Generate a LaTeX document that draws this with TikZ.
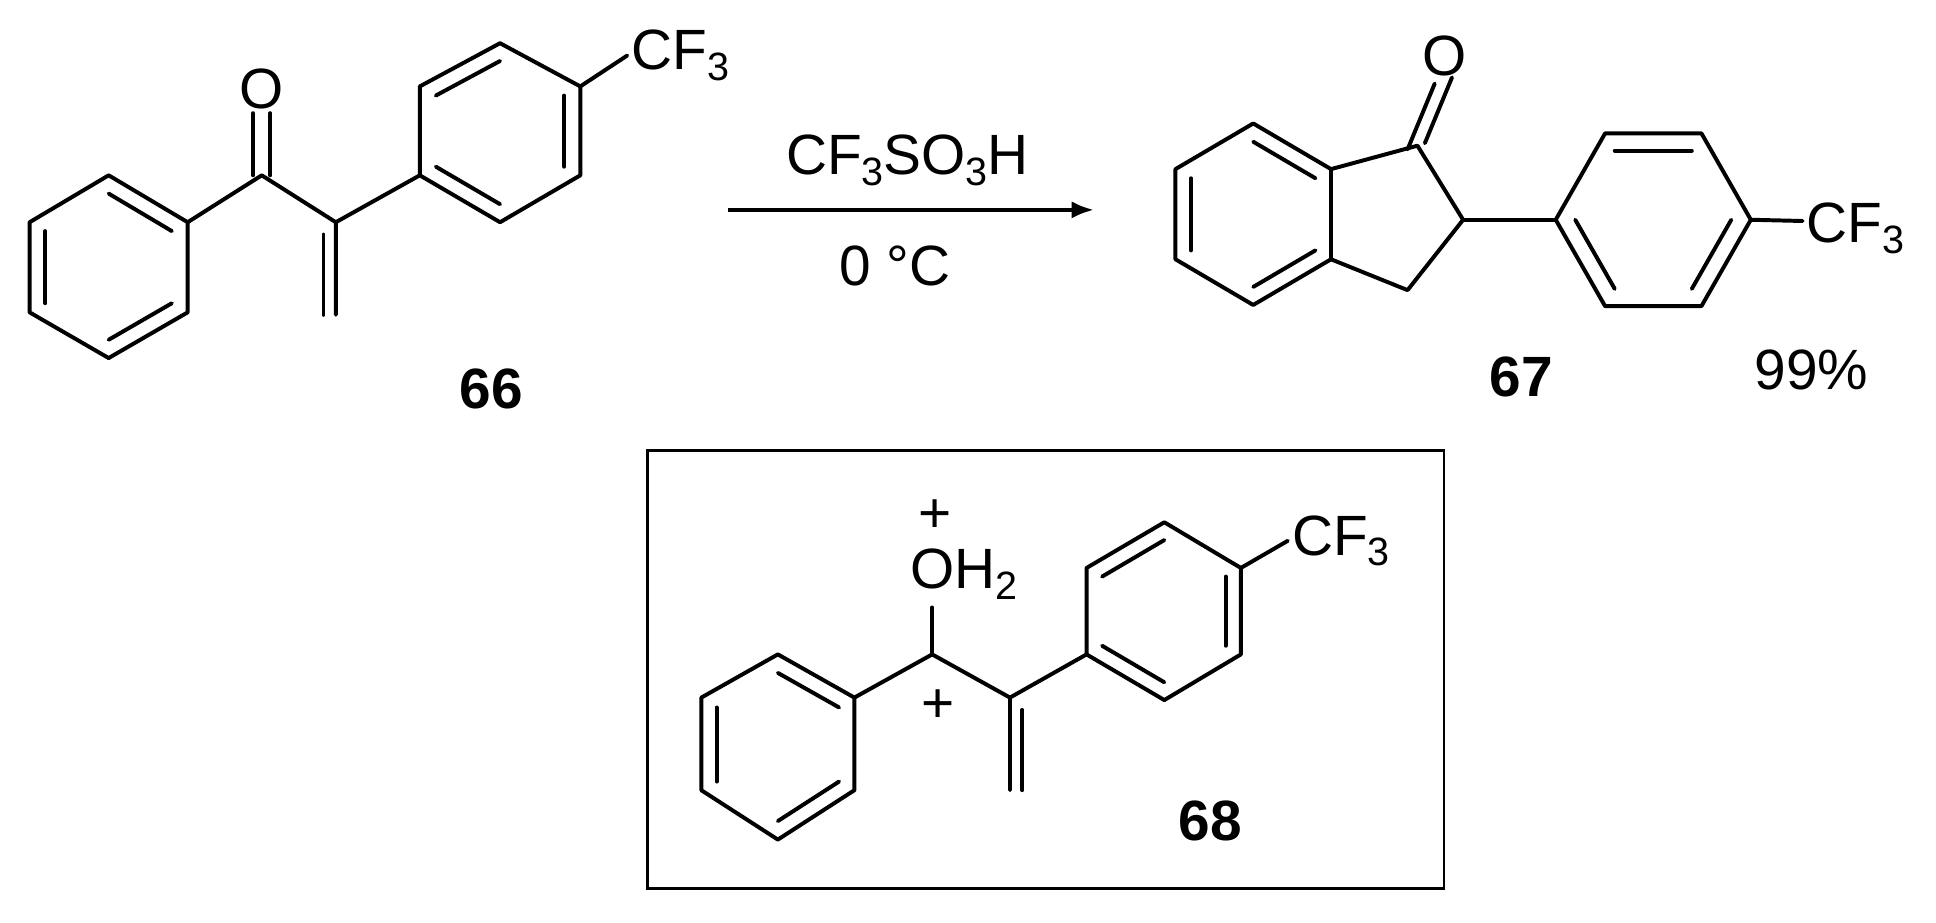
\documentclass[tikz,border=0pt]{standalone}
\usepackage{fontspec}
\setmainfont{Liberation Sans}
\usetikzlibrary{calc,arrows.meta}
\tikzset{
  bond/.style={line width=1.6pt,line cap=round,line join=round},
  atom/.style={inner sep=1.5pt,font=\fontsize{23}{27}\selectfont},
  lbl/.style={font=\fontsize{23}{27}\selectfont\bfseries},
  txt/.style={font=\fontsize{23}{27}\selectfont},
}
\newcommand{\inner}[3]{\draw[bond] ($(#1)!0.2!(#3)$) -- ($(#2)!0.2!(#3)$);}
\newcommand{\sbs}[1]{\raisebox{-0.35ex}{\fontsize{16}{18}\selectfont #1}}
\begin{document}
\begin{tikzpicture}[x=0.5pt,y=-0.5pt]
\useasboundingbox (0,0) rectangle (1568,747);
% ---------- 66 ----------
\coordinate (a1) at (88,142); \coordinate (a2) at (152,180); \coordinate (a3) at (152,253);
\coordinate (a4) at (88,290); \coordinate (a5) at (24,253); \coordinate (a6) at (24,180);
\coordinate (ac) at (88,216);
\draw[bond] (a1)--(a2)--(a3)--(a4)--(a5)--(a6)--cycle;
\inner{a1}{a2}{ac}\inner{a3}{a4}{ac}\inner{a5}{a6}{ac}
\coordinate (c1) at (212,142); \node[atom] (o1) at (212,72) {O};
\coordinate (c2) at (272,180); \coordinate (ch2) at (272,255);
\draw[bond] (a2)--(c1)--(c2)--(ch2);
\draw[bond] ([xshift=-3.5pt]c1) -- ([xshift=-3.5pt]o1.south);
\draw[bond] ([xshift=3.5pt]c1) -- ([xshift=3.5pt]o1.south);
\draw[bond] (262,190)--(262,255);
\coordinate (b1) at (340,142); \coordinate (b2) at (340,70); \coordinate (b3) at (405,35);
\coordinate (b4) at (470,70); \coordinate (b5) at (470,142); \coordinate (b6) at (405,180);
\coordinate (bc) at (405,107);
\draw[bond] (b1)--(b2)--(b3)--(b4)--(b5)--(b6)--cycle;
\inner{b2}{b3}{bc}\inner{b4}{b5}{bc}\inner{b6}{b1}{bc}
\draw[bond] (c2)--(b1);
\node[atom,anchor=west] (cf1) at (508,45) {CF\sbs{3}};
\draw[bond] (b4)--(cf1.west);
\node[lbl] (n66) at (398,315) {66};
% ---------- arrow ----------
\coordinate (ar1) at (590,170); \coordinate (ar2) at (886,170);
\draw[bond,line cap=butt,-{Latex[length=9pt,width=7pt]}] (ar1)--(ar2);
\node[txt] (reag) at (735,130) {CF\sbs{3}SO\sbs{3}H};
\node[txt] (temp) at (725,215) {0 °C};
% ---------- 67 ----------
\coordinate (d1) at (1015,100); \coordinate (d2) at (1078,137); \coordinate (d3) at (1078,210);
\coordinate (d4) at (1015,247); \coordinate (d5) at (952,210); \coordinate (d6) at (952,137);
\coordinate (dc) at (1015,174);
\draw[bond] (d1)--(d2)--(d3)--(d4)--(d5)--(d6)--cycle;
\inner{d1}{d2}{dc}\inner{d3}{d4}{dc}\inner{d5}{d6}{dc}
\coordinate (e1) at (1148,118); \coordinate (e2) at (1185,178); \coordinate (e3) at (1140,235);
\draw[bond] (d2)--(e1)--(e2)--(e3)--(d3);
\node[atom] (o2) at (1170,45) {O};
\draw[bond] ([xshift=-4pt,yshift=-1.5pt]e1) -- ([xshift=-4pt,yshift=-1.5pt]o2.south);
\draw[bond] ([xshift=3pt,yshift=1pt]e1) -- ([xshift=3pt,yshift=1pt]o2.south);
\coordinate (f1) at (1260,178); \coordinate (f2) at (1300,108); \coordinate (f3) at (1378,108);
\coordinate (f4) at (1418,178); \coordinate (f5) at (1378,248); \coordinate (f6) at (1300,248);
\coordinate (fc) at (1339,178);
\draw[bond] (f1)--(f2)--(f3)--(f4)--(f5)--(f6)--cycle;
\inner{f2}{f3}{fc}\inner{f4}{f5}{fc}\inner{f6}{f1}{fc}
\draw[bond] (e2)--(f1);
\node[atom,anchor=west] (cf2) at (1460,185) {CF\sbs{3}};
\draw[bond] (f4)--([yshift=3pt]cf2.west);
\node[lbl] (n67) at (1232,305) {67};
\node[txt] (yld) at (1467,300) {99\%};
% ---------- box / 68 ----------
\node[draw,line width=1.2pt,minimum width=322.5pt,minimum height=177.5pt,inner sep=0pt] (box) at (847,542.5) {};
\coordinate (g1) at (630,530); \coordinate (g2) at (692,565); \coordinate (g3) at (692,640);
\coordinate (g4) at (630,680); \coordinate (g5) at (568,640); \coordinate (g6) at (568,565);
\coordinate (gc) at (630,605);
\draw[bond] (g1)--(g2)--(g3)--(g4)--(g5)--(g6)--cycle;
\inner{g1}{g2}{gc}\inner{g3}{g4}{gc}\inner{g5}{g6}{gc}
\coordinate (h1) at (755,530); \coordinate (h2) at (818,565); \coordinate (h3) at (818,640);
\node[atom,anchor=west] (oh) at (734,465) {OH\sbs{2}};
\node[txt] (plus1) at (757,418) {+};
\node[txt] (plus2) at (760,572) {+};
\draw[bond] (g2)--(h1)--(h2)--(h3);
\draw[bond] (h1)--(755,492);
\draw[bond] (828,575)--(828,640);
\coordinate (k1) at (880,530); \coordinate (k2) at (880,460); \coordinate (k3) at (943,423);
\coordinate (k4) at (1005,460); \coordinate (k5) at (1005,530); \coordinate (k6) at (943,567);
\coordinate (kc) at (943,495);
\draw[bond] (k1)--(k2)--(k3)--(k4)--(k5)--(k6)--cycle;
\inner{k2}{k3}{kc}\inner{k4}{k5}{kc}\inner{k6}{k1}{kc}
\draw[bond] (h2)--(k1);
\node[atom,anchor=west] (cf3) at (1043,438) {CF\sbs{3}};
\draw[bond] (k4)--(cf3.west);
\node[lbl] (n68) at (980,665) {68};
\end{tikzpicture}
\end{document}
